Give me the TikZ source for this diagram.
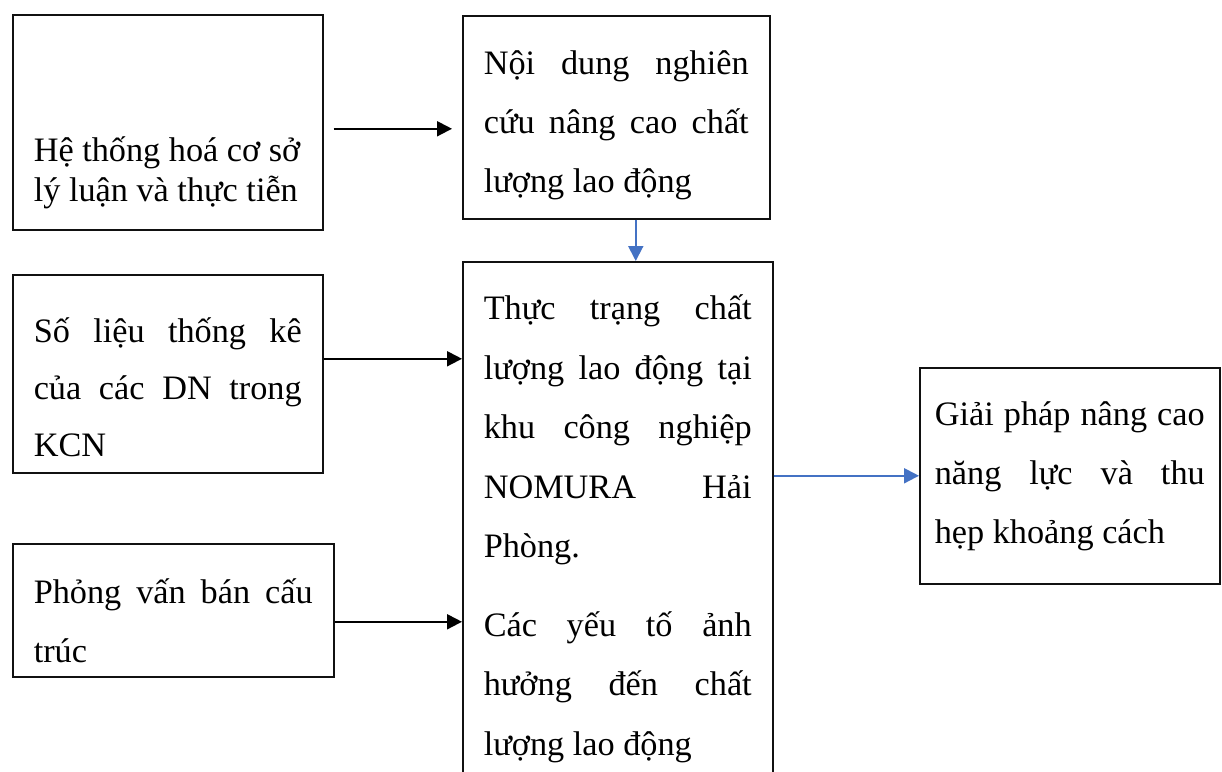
\documentclass[tikz,border=0pt]{standalone}
\usepackage{fontspec}
\setmainfont{Liberation Serif}
\usetikzlibrary{arrows.meta}
\definecolor{kcnBlue}{HTML}{4472C4}
\definecolor{kcnInk}{HTML}{111111}
\newcommand{\jline}[1]{\makebox[\hsize][s]{\spaceskip=0pt\xspaceskip=0pt #1}}
\tikzset{
  kcn box/.style={draw=kcnInk, line width=0.9pt, rectangle, anchor=north west, inner xsep=0.42cm, inner ysep=0pt,
    align=left, execute at begin node={\spaceskip=0pt\xspaceskip=0pt}, font=\fontsize{19.5pt}{1.18cm}\selectfont},
  kcn tight/.style={font=\fontsize{19.5pt}{0.8cm}\selectfont},
  kcn arrow/.style={draw=black, line width=1.1pt, -{Triangle[length=0.3cm, width=0.3cm]}},
  kcn link/.style={kcn arrow, draw=kcnBlue},
}

\begin{document}
\begin{tikzpicture}[x=0.02cm, y=-0.02cm]
  \useasboundingbox (0,0) rectangle (1222,771);
  \clip (0,0) rectangle (1222,771);

  % Left column: sources
  \node[kcn box, kcn tight, text width=5.36cm, text height=2.94cm, text depth=1.36cm] (hethong) at (12,14)
    {\mbox{Hệ thống hoá cơ sở}\\\mbox{lý luận và thực tiễn}};
  \node[kcn box, text width=5.36cm, text height=1.36cm, text depth=2.6cm, font=\fontsize{19.5pt}{1.14cm}\selectfont] (solieu) at (12,274)
    {\jline{Số liệu thống kê}\\\jline{của các DN trong}\\KCN};
  \node[kcn box, text width=5.58cm, text height=1.2cm, text depth=1.46cm] (phongvan) at (12,543)
    {\jline{Phỏng vấn bán cấu}\\trúc};

  % Middle column
  \node[kcn box, text width=5.3cm, text height=1.18cm, text depth=2.88cm] (noidung) at (462,15)
    {\jline{Nội dung nghiên}\\\jline{cứu nâng cao chất}\\lượng lao động};
  \node[kcn box, text width=5.36cm, text height=1.16cm, text depth=12cm, font=\fontsize{19.5pt}{1.19cm}\selectfont] (thuctrang) at (462,261)
    {\jline{Thực trạng chất}\\\jline{lượng lao động tại}\\\jline{khu công nghiệp}\\\jline{NOMURA Hải}\\Phòng.\\[0.38cm]
     \jline{Các yếu tố ảnh}\\\jline{hưởng đến chất}\\lượng lao động};

  % Right: result
  \node[kcn box, inner xsep=0.3cm, text width=5.4cm, text height=1.16cm, text depth=3.16cm] (giaiphap) at (919,367)
    {\jline{Giải pháp nâng cao}\\\jline{năng lực và thu}\\hẹp khoảng cách};

  % Connectors
  \draw[kcn arrow, shorten <=0.2cm, shorten >=0.2cm]
    ([yshift=-0.13cm]hethong.east) -- ([yshift=-0.13cm]hethong.east -| noidung.west);
  \draw[kcn arrow] ([yshift=0.3cm]solieu.east) -- ([yshift=0.3cm]solieu.east -| thuctrang.west);
  \draw[kcn arrow] ([yshift=-0.23cm]phongvan.east) -- ([yshift=-0.23cm]phongvan.east -| thuctrang.west);
  \draw[kcn link] ([xshift=0.39cm]noidung.south) -- ([xshift=0.39cm]noidung.south |- thuctrang.north);
  \draw[kcn link] (giaiphap.west -| thuctrang.east) -- (giaiphap.west);
\end{tikzpicture}
\end{document}
